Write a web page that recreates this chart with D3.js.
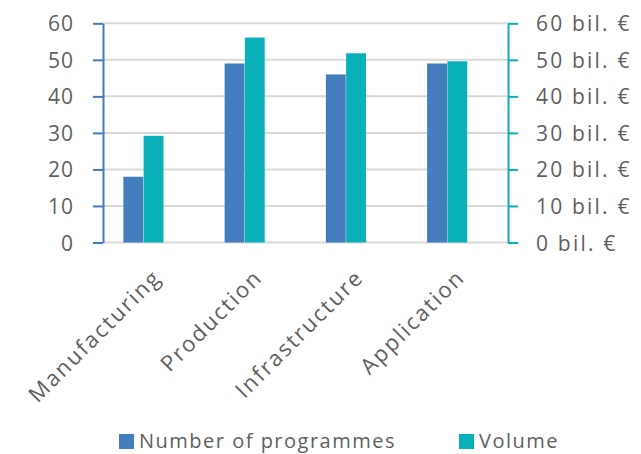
<!DOCTYPE html>
<html><head><meta charset="utf-8">
<script src="https://cdn.jsdelivr.net/npm/d3@7"></script>
<style>
body{margin:0;background:#fff;}
text{font-family:"Open Sans",sans-serif;fill:#5f5f5f;}
</style></head>
<body><svg id="c" width="641" height="454"></svg>
<script>
const categories = ["Manufacturing","Production","Infrastructure","Application"];
const programmes = [18,49,46,49];
const volume = [29.2,56.1,51.8,49.6];
const seriesNames = ["Number of programmes","Volume"];
const leftTicks = [0,10,20,30,40,50,60];
const rightTicks = [0,10,20,30,40,50,60];
const colors = ["#447dbd","#0ab0b7"];

const svg = d3.select("#c");
const yL = d3.scaleLinear().domain([0,60]).range([242.5,23.3]);
const yR = d3.scaleLinear().domain([0,60]).range([242.5,23.3]);
const axL = 103, axR = 508;
const x = d3.scaleBand().domain(categories).range([93,498]).paddingInner(0).paddingOuter(0);
const groupW = x.bandwidth()/2.5;
const xs = d3.scaleBand().domain([0,1]).range([0,groupW]);

svg.append("g").selectAll("line").data(leftTicks).join("line")
  .attr("x1",axL).attr("x2",axR).attr("y1",d=>yL(d)).attr("y2",d=>yL(d))
  .attr("stroke","#d9d9d9").attr("stroke-width",2);

const data = categories.map((c,i)=>({c, vals:[programmes[i],volume[i]]}));
const scales=[yL,yR];
const g = svg.append("g").selectAll("g").data(data).join("g")
  .attr("transform",d=>`translate(${x(d.c)+x.bandwidth()/2-groupW/2},0)`);
g.selectAll("rect").data(d=>d.vals.map((v,k)=>({v,k}))).join("rect")
  .attr("x",d=>xs(d.k)).attr("width",xs.bandwidth()-0.4)
  .attr("y",d=>scales[d.k](d.v)).attr("height",d=>scales[d.k](0)-scales[d.k](d.v))
  .attr("fill",d=>colors[d.k]);

const la = svg.append("g").attr("transform",`translate(${axL},0)`)
  .call(d3.axisLeft(yL).tickValues(leftTicks).tickSize(10).tickPadding(19).tickSizeOuter(0));
la.select(".domain").attr("stroke",colors[0]).attr("stroke-width",2);
la.selectAll(".tick line").attr("stroke",colors[0]).attr("stroke-width",2);
la.selectAll(".tick text").attr("font-size",21).attr("letter-spacing","1px").attr("fill","#5f5f5f").attr("dy","0.36em");

const ra = svg.append("g").attr("transform",`translate(${axR},0)`)
  .call(d3.axisRight(yR).tickValues(rightTicks).tickSize(10).tickPadding(18).tickSizeOuter(0)
  .tickFormat(d=>d+" bil. €"));
ra.select(".domain").attr("stroke",colors[1]).attr("stroke-width",2);
ra.selectAll(".tick line").attr("stroke",colors[1]).attr("stroke-width",2);
ra.selectAll(".tick text").attr("font-size",21).attr("letter-spacing","2.2px").attr("fill","#5f5f5f").attr("dy","0.36em");

svg.append("g").selectAll("text").data(categories).join("text")
  .attr("transform",d=>`translate(${x(d)+x.bandwidth()/2+8},${268}) rotate(-45)`)
  .attr("text-anchor","end").attr("dy","0.7em").attr("font-size",22).attr("letter-spacing","2px").text(d=>d);

const leg = [{n:seriesNames[0],x:119,c:colors[0]},{n:seriesNames[1],x:459,c:colors[1]}];
const lg = svg.append("g").selectAll("g").data(leg).join("g").attr("transform",d=>`translate(${d.x},434)`);
lg.append("rect").attr("width",15).attr("height",15).attr("fill",d=>d.c);
lg.append("text").attr("x",20).attr("y",14).attr("font-size",20).attr("letter-spacing","1.5px").text(d=>d.n);
</script></body></html>
